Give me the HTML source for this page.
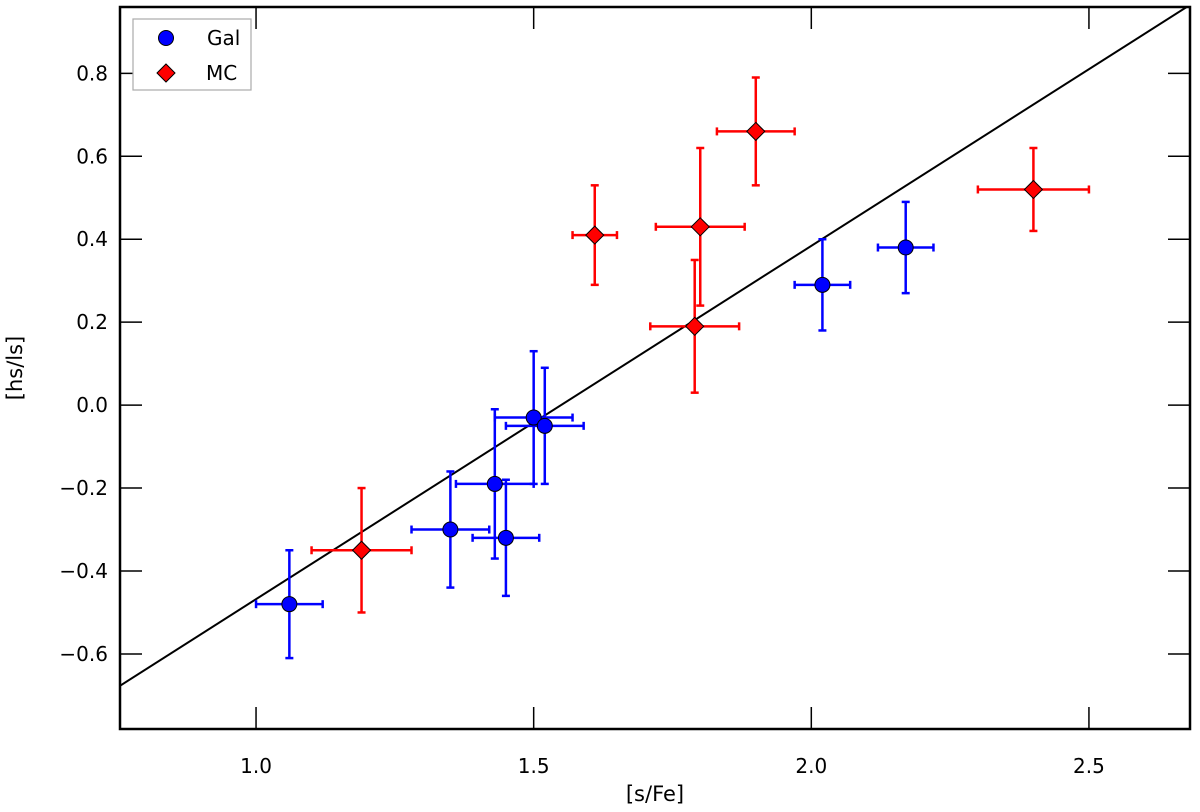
<!DOCTYPE html>
<html><head><meta charset="utf-8"><style>
html,body{margin:0;padding:0;background:#fff}
svg text{font-family:"DejaVu Sans","Liberation Sans",sans-serif;fill:#000}
</style></head><body>
<svg id="chart" width="1200" height="807" xmlns="http://www.w3.org/2000/svg"></svg>
<script>
const xTicks=[1.0,1.5,2.0,2.5];
const yTicks=[-0.6,-0.4,-0.2,0.0,0.2,0.4,0.6,0.8];
const galX=[1.06,1.35,1.43,1.45,1.50,1.52,2.02,2.17];
const galY=[-0.48,-0.30,-0.19,-0.32,-0.03,-0.05,0.29,0.38];
const galXErr=[0.06,0.07,0.07,0.06,0.07,0.07,0.05,0.05];
const galYErr=[0.13,0.14,0.18,0.14,0.16,0.14,0.11,0.11];
const mcX=[1.19,1.61,1.79,1.80,1.90,2.40];
const mcY=[-0.35,0.41,0.19,0.43,0.66,0.52];
const mcXErr=[0.09,0.04,0.08,0.08,0.07,0.10];
const mcYErr=[0.15,0.12,0.16,0.19,0.13,0.10];
const fitSlope=0.852, fitIntercept=-1.320;

const L=120,R=1190,T=7,B=729;
const xMin=0.755,xMax=2.682,yMin=-0.781,yMax=0.960;
const sx=v=>L+(v-xMin)/(xMax-xMin)*(R-L);
const sy=v=>B-(v-yMin)/(yMax-yMin)*(B-T);
const svg=document.getElementById('chart');
const NS='http://www.w3.org/2000/svg';
function mk(tag,attrs,parent){const e=document.createElementNS(NS,tag);for(const k in attrs)e.setAttribute(k,attrs[k]);(parent||svg).appendChild(e);return e;}

const clip=mk('clipPath',{id:'clip'});
mk('rect',{x:L,y:T,width:R-L,height:B-T},clip);
const fit=mk('line',{x1:sx(xMin),y1:sy(fitSlope*xMin+fitIntercept),x2:sx(xMax),y2:sy(fitSlope*xMax+fitIntercept),stroke:'#000','stroke-width':2,'clip-path':'url(#clip)'});



function errbars(xs,ys,xe,ye,color,name){
  const g=mk('g',{});
  
  
  for(let i=0;i<xs.length;i++){
    const cx=sx(xs[i]),cy=sy(ys[i]),x1=sx(xs[i]-xe[i]),x2=sx(xs[i]+xe[i]),y1=sy(ys[i]+ye[i]),y2=sy(ys[i]-ye[i]);
    const a={stroke:color,'stroke-width':2.5};
    mk('line',Object.assign({x1:x1,y1:cy,x2:x2,y2:cy},a),g);
    mk('line',Object.assign({x1:cx,y1:y1,x2:cx,y2:y2},a),g);
    mk('line',Object.assign({x1:x1,y1:cy-4,x2:x1,y2:cy+4},a),g);
    mk('line',Object.assign({x1:x2,y1:cy-4,x2:x2,y2:cy+4},a),g);
    mk('line',Object.assign({x1:cx-4,y1:y1,x2:cx+4,y2:y1},a),g);
    mk('line',Object.assign({x1:cx-4,y1:y2,x2:cx+4,y2:y2},a),g);
  }
}
errbars(galX,galY,galXErr,galYErr,'#0000ff','gal');
errbars(mcX,mcY,mcXErr,mcYErr,'#ff0000','mc');
for(let i=0;i<galX.length;i++){
  const c=mk('circle',{cx:sx(galX[i]),cy:sy(galY[i]),r:7.5,fill:'#0000ff',stroke:'#000','stroke-width':1});
  
  
}
for(let i=0;i<mcX.length;i++){
  const cx=sx(mcX[i]),cy=sy(mcY[i]),r=9;
  const p=mk('polygon',{points:`${cx},${cy-r} ${cx+r},${cy} ${cx},${cy+r} ${cx-r},${cy}`,fill:'#ff0000',stroke:'#000','stroke-width':1});
  
  
}

const fr=mk('rect',{x:L,y:T,width:R-L,height:B-T,fill:'none',stroke:'#000','stroke-width':2.5});


xTicks.forEach(v=>{
  const x=sx(v);
  mk('line',{x1:x,y1:B,x2:x,y2:B-22,stroke:'#000','stroke-width':1.5});
  mk('line',{x1:x,y1:T,x2:x,y2:T+22,stroke:'#000','stroke-width':1.5});
  const t=mk('text',{x:x,y:B+44,'text-anchor':'middle','font-size':20});
  t.textContent=v.toFixed(1);
  
  
});
yTicks.forEach(v=>{
  const y=sy(v);
  mk('line',{x1:L,y1:y,x2:L+22,y2:y,stroke:'#000','stroke-width':1.5});
  mk('line',{x1:R,y1:y,x2:R-22,y2:y,stroke:'#000','stroke-width':1.5});
  const t=mk('text',{x:L-12,y:y+7,'text-anchor':'end','font-size':20});
  t.textContent=(v<0?'\u2212':'')+Math.abs(v).toFixed(1);
  
  
});
const xl=mk('text',{x:655,y:801,'text-anchor':'middle','font-size':21});
xl.textContent='[s/Fe]';


const yl=mk('text',{x:22,y:368,'text-anchor':'middle','font-size':21,transform:'rotate(-90 22 368)'});
yl.textContent='[hs/ls]';



const lg=mk('g',{});


mk('rect',{x:133,y:19,width:118,height:71,fill:'#fff',stroke:'#aaa','stroke-width':1.2},lg);
mk('circle',{cx:166,cy:38,r:7.5,fill:'#0000ff',stroke:'#000'},lg);
mk('polygon',{points:'166,64 175,73 166,82 157,73',fill:'#ff0000',stroke:'#000'},lg);
const t1=mk('text',{x:207,y:45,'font-size':20},lg);t1.textContent='Gal';


const t2=mk('text',{x:206,y:80,'font-size':20},lg);t2.textContent='MC';


</script>
</body></html>
